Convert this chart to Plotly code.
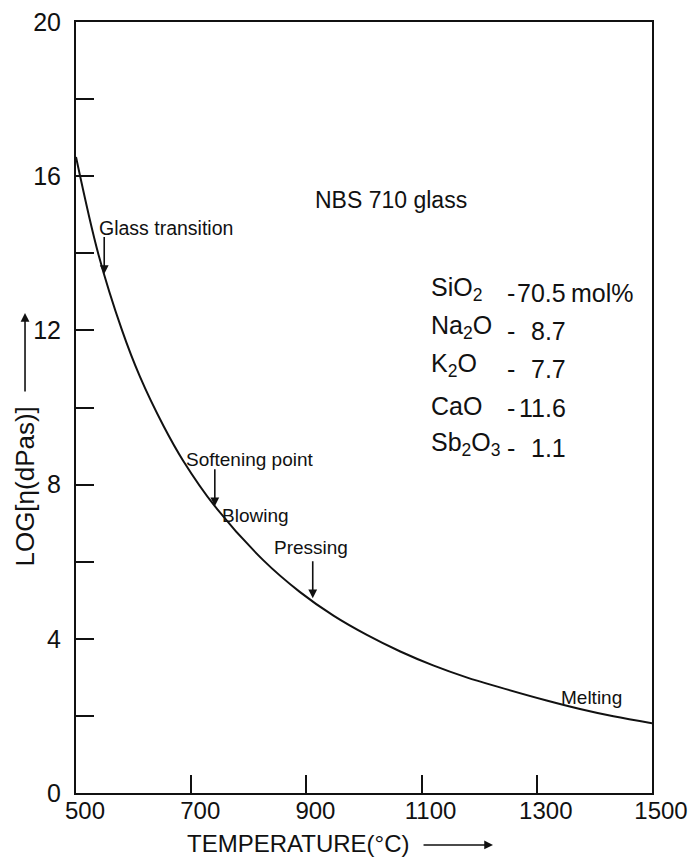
import plotly.graph_objects as go

# Viscosity curve of NBS 710 glass (read points along the curve)
temperature_c = [500, 539, 580, 611, 652, 686, 741, 825, 889, 947, 1005,
                 1063, 1120, 1178, 1236, 1317, 1375, 1433, 1500]
log_viscosity = [16.5, 13.97, 12.0, 10.8, 9.52, 8.62, 7.44, 6.04, 5.21, 4.60,
                 4.10, 3.67, 3.31, 3.0, 2.74, 2.40, 2.18, 1.99, 1.81]

# Working points marked on the curve: (label, temperature, log viscosity at arrow tip)
marked_points = [
    ("Glass transition", 549, 13.46),
    ("Softening point", 741, 7.44),
    ("Pressing", 911, 5.05),
]

# Glass composition (mol %)
oxides = ["SiO<sub>2</sub>", "Na<sub>2</sub>O", "K<sub>2</sub>O", "CaO",
          "Sb<sub>2</sub>O<sub>3</sub>"]
mol_percent = ["70.5", "8.7", "7.7", "11.6", "1.1"]

x_ticks = [500, 700, 900, 1100, 1300, 1500]
y_ticks = [0, 2, 4, 6, 8, 10, 12, 14, 16, 18, 20]
y_tick_text = ["0", "", "4", "", "8", "", "12", "", "16", "", "20"]

FONT = "Liberation Sans, Arial, sans-serif"
INK = "#111111"

fig = go.Figure()
fig.add_trace(go.Scatter(
    x=temperature_c, y=log_viscosity, mode="lines",
    line=dict(color=INK, width=2, shape="spline", smoothing=1.0),
    hoverinfo="skip", showlegend=False,
))

annotations = []

# Arrows pointing down onto the curve, with their labels above
label_pos = {
    "Glass transition": (541, 14.66, 19.5),
    "Softening point": (692, 8.64, 19),
    "Pressing": (846, 6.36, 19),
}
for name, t, v in marked_points:
    annotations.append(dict(
        x=t, y=v, ax=t, ay=v + 1.0, xref="x", yref="y", axref="x", ayref="y",
        showarrow=True, arrowhead=2, arrowsize=1.1, arrowwidth=1.6,
        arrowcolor=INK, text="",
    ))
    lx, ly, size = label_pos[name]
    annotations.append(dict(
        x=lx, y=ly, xref="x", yref="y", text=name, showarrow=False,
        xanchor="left", yanchor="middle", xshift=-3,
        font=dict(family=FONT, size=size, color=INK),
    ))

annotations.append(dict(
    x=755, y=7.21, xref="x", yref="y", text="Blowing", showarrow=False,
    xanchor="left", yanchor="middle", xshift=-3,
    font=dict(family=FONT, size=19, color=INK),
))
annotations.append(dict(
    x=1343, y=2.49, xref="x", yref="y", text="Melting", showarrow=False,
    xanchor="left", yanchor="middle", xshift=-3,
    font=dict(family=FONT, size=19, color=INK),
))
annotations.append(dict(
    x=915, y=15.38, xref="x", yref="y", text="NBS 710 glass", showarrow=False,
    xanchor="left", yanchor="middle", xshift=-2,
    font=dict(family=FONT, size=23, color=INK),
))

# Composition table
row_y = [12.98, 11.99, 11.0, 10.0, 8.96]
for i, (ox, val) in enumerate(zip(oxides, mol_percent)):
    y = row_y[i]
    annotations.append(dict(
        x=1113, y=y, xref="x", yref="y", text=ox, showarrow=False,
        xanchor="left", yanchor="bottom", yshift=-14,
        font=dict(family=FONT, size=25, color=INK),
    ))
    annotations.append(dict(
        x=1256, y=y, xref="x", yref="y", text="-", showarrow=False,
        xanchor="center", yanchor="middle",
        font=dict(family=FONT, size=25, color=INK),
    ))
    annotations.append(dict(
        x=1354, y=y, xref="x", yref="y", text=val, showarrow=False,
        xanchor="right", yanchor="middle",
        font=dict(family=FONT, size=25, color=INK),
    ))
annotations.append(dict(
    x=1356, y=row_y[0], xref="x", yref="y", text="mol%", showarrow=False,
    xanchor="left", yanchor="middle", font=dict(family=FONT, size=25, color=INK),
))

# Axis titles with their arrows
annotations.append(dict(
    x=0.385, y=-0.0655, xref="paper", yref="paper", text="TEMPERATURE(°C)",
    showarrow=False, xanchor="center", yanchor="middle",
    font=dict(family=FONT, size=24, color=INK),
))
annotations.append(dict(
    x=0.724, y=-0.0674, xref="paper", yref="paper", ax=-71, ay=0,
    showarrow=True, arrowhead=2, arrowsize=1.1, arrowwidth=1.6,
    arrowcolor=INK, text="",
))
annotations.append(dict(
    x=-0.0885, y=0.3975, xref="paper", yref="paper", text="LOG[η(dPas)]",
    textangle=-90, showarrow=False, xanchor="center", yanchor="middle",
    font=dict(family=FONT, size=26, color=INK),
))
annotations.append(dict(
    x=-0.0885, y=0.6226, xref="paper", yref="paper", ax=0, ay=80,
    showarrow=True, arrowhead=2, arrowsize=1.1, arrowwidth=1.6,
    arrowcolor=INK, text="",
))

fig.update_layout(
    width=689, height=859,
    margin=dict(l=76, r=37, t=22, b=66, autoexpand=False),
    paper_bgcolor="white", plot_bgcolor="white",
    annotations=annotations,
    xaxis=dict(
        range=[500, 1500], tickvals=x_ticks, ticktext=[str(v) for v in x_ticks],
        ticks="inside", ticklen=18, tickwidth=1.5, tickcolor=INK,
        showline=True, linecolor=INK, linewidth=2, mirror=True,
        showgrid=False, zeroline=False, automargin=False,
        ticklabelstandoff=-5, ticklabelshift=9,
        tickfont=dict(family=FONT, size=24, color=INK),
    ),
    yaxis=dict(
        range=[0, 20], tickvals=y_ticks, ticktext=y_tick_text,
        ticks="inside", ticklen=18, tickwidth=2, tickcolor=INK,
        showline=True, linecolor=INK, linewidth=2, mirror=True,
        showgrid=False, zeroline=False, automargin=False,
        ticklabelstandoff=8,
        tickfont=dict(family=FONT, size=25, color=INK),
    ),
)

fig.write_html("out.html")
